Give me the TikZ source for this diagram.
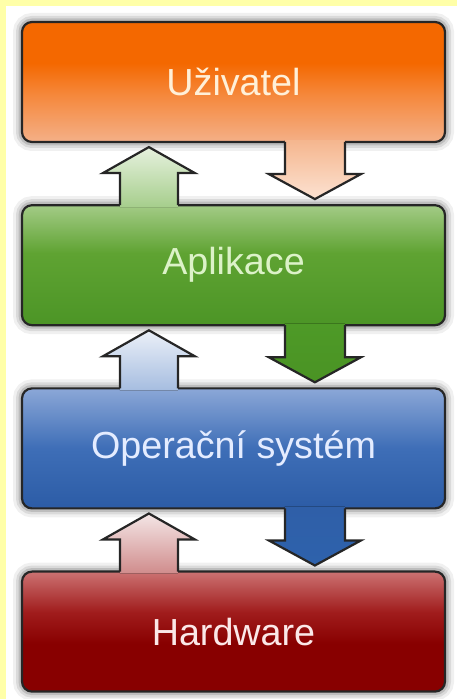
\documentclass[tikz,border=0pt]{standalone}
\usepackage{fontspec}
\setmainfont{Liberation Sans}
\usetikzlibrary{positioning,calc}
\definecolor{bgYellow}{HTML}{FFFFA8}
\definecolor{uzTop}{HTML}{F46800}
\definecolor{uzMid}{HTML}{F5873A}
\definecolor{uzBot}{HTML}{F4B088}
\definecolor{uzText}{HTML}{FFF0D8}
\definecolor{uzDnA}{HTML}{F5B68E}
\definecolor{uzDnB}{HTML}{FCE2D2}
\definecolor{aplTop}{HTML}{A3CB86}
\definecolor{aplMid}{HTML}{5FA332}
\definecolor{aplBot}{HTML}{4C9526}
\definecolor{aplText}{HTML}{DCF2C8}
\definecolor{aplUpA}{HTML}{A6CE8C}
\definecolor{aplUpB}{HTML}{E6F1DE}
\definecolor{aplDnA}{HTML}{4E9A27}
\definecolor{aplDnB}{HTML}{4A9324}
\definecolor{osTop}{HTML}{8BA7D7}
\definecolor{osMid}{HTML}{3E6EB7}
\definecolor{osBot}{HTML}{2C5CA6}
\definecolor{osText}{HTML}{E4ECFF}
\definecolor{osUpA}{HTML}{A6BDE0}
\definecolor{osUpB}{HTML}{EBF0F8}
\definecolor{osDnA}{HTML}{2F5FA8}
\definecolor{osDnB}{HTML}{2E62AC}
\definecolor{hwTop}{HTML}{CC7272}
\definecolor{hwMid}{HTML}{A01C1C}
\definecolor{hwBot}{HTML}{880000}
\definecolor{hwText}{HTML}{FBE8E8}
\definecolor{hwUpA}{HTML}{D08C8C}
\definecolor{hwUpB}{HTML}{F4E6E6}
\pgfdeclareverticalshading{uzShade}{100bp}{color(0bp)=(uzBot); color(25bp)=(uzBot); color(45bp)=(uzMid); color(58bp)=(uzTop); color(100bp)=(uzTop)}
\pgfdeclareverticalshading{aplShade}{100bp}{color(0bp)=(aplBot); color(25bp)=(aplBot); color(55bp)=(aplMid); color(75bp)=(aplTop); color(100bp)=(aplTop)}
\pgfdeclareverticalshading{osShade}{100bp}{color(0bp)=(osBot); color(25bp)=(osBot); color(50bp)=(osMid); color(75bp)=(osTop); color(100bp)=(osTop)}
\pgfdeclareverticalshading{hwShade}{100bp}{color(0bp)=(hwBot); color(25bp)=(hwBot); color(45bp)=(hwBot); color(58bp)=(hwMid); color(75bp)=(hwTop); color(100bp)=(hwTop)}
\pgfdeclarelayer{shadow}
\pgfsetlayers{shadow,main}
\tikzset{
  tier/.style={draw=black!85, line width=2.2pt, rounded corners=10pt, shade,
    minimum width=423pt, minimum height=120pt, inner sep=0pt,
    font=\fontsize{37.7}{44}\selectfont,
    preaction={draw=black, line width=18pt, opacity=0.06},
    preaction={draw=black, line width=12pt, opacity=0.09},
    preaction={draw=black, line width=7pt, opacity=0.13}},
  arrline/.style={draw=black!85, line width=2.2pt, line join=miter},
}
% block arrow from lower tier up to upper tier
\newcommand{\blockup}[4]{%
  \coordinate (tip) at ($(#2.south west)+(#3,-4)$);
  \coordinate (hl) at ($(tip)+(-46,-26)$);
  \coordinate (hr) at ($(tip)+(46,-26)$);
  \coordinate (sl) at ($(tip)+(-29,-26)$);
  \coordinate (sr) at ($(tip)+(29,-26)$);
  \coordinate (bl) at (sl |- #1.north);
  \coordinate (br) at (sr |- #1.north);
  \begin{pgfonlayer}{shadow}
    \foreach \w/\o in {18pt/0.06,12pt/0.09,7pt/0.13}
      \draw[black, line width=\w, opacity=\o, line join=round] (bl) -- (sl) -- (hl) -- (tip) -- (hr) -- (sr) -- (br) -- cycle;
  \end{pgfonlayer}
  \fill[#4] ($(bl)+(0,-3)$) -- (sl) -- (hl) -- (tip) -- (hr) -- (sr) -- ($(br)+(0,-3)$) -- cycle;
  \draw[arrline] ($(bl)+(0,-1.1)$) -- (sl) -- (hl) -- (tip) -- (hr) -- (sr) -- ($(br)+(0,-1.1)$);
}
% block arrow from upper tier down to lower tier
\newcommand{\blockdown}[4]{%
  \coordinate (tip) at ($(#2.north west)+(#3,5)$);
  \coordinate (hl) at ($(tip)+(-46,25)$);
  \coordinate (hr) at ($(tip)+(46,25)$);
  \coordinate (sl) at ($(tip)+(-30,25)$);
  \coordinate (sr) at ($(tip)+(30,25)$);
  \coordinate (bl) at (sl |- #1.south);
  \coordinate (br) at (sr |- #1.south);
  \begin{pgfonlayer}{shadow}
    \foreach \w/\o in {18pt/0.06,12pt/0.09,7pt/0.13}
      \draw[black, line width=\w, opacity=\o, line join=round] (bl) -- (sl) -- (hl) -- (tip) -- (hr) -- (sr) -- (br) -- cycle;
  \end{pgfonlayer}
  \fill[#4] ($(bl)+(0,3)$) -- (sl) -- (hl) -- (tip) -- (hr) -- (sr) -- ($(br)+(0,3)$) -- cycle;
  \draw[arrline] ($(bl)+(0,1.1)$) -- (sl) -- (hl) -- (tip) -- (hr) -- (sr) -- ($(br)+(0,1.1)$);
}
\begin{document}
\begin{tikzpicture}[x=1pt, y=1pt, node distance=61pt]
\useasboundingbox (0,0) rectangle (456,699);
\fill[bgYellow] (-5,-5) rectangle (461,704);
\fill[white] (6,-5) rectangle (461,693);

% tiers
\node[tier, shading=uzShade, text=uzText] (uziv) at (233.5,617) {Uživatel};
\node[tier, shading=aplShade, text=aplText, below=of uziv] (apl) {Aplikace};
\node[tier, shading=osShade, text=osText, below=of apl] (os) {Operační systém};
\node[tier, shading=hwShade, text=hwText, below=of os] (hw) {Hardware};

% arrows up
\blockup{apl}{uziv}{128}{bottom color=aplUpA, top color=aplUpB}
\blockup{os}{apl}{128}{bottom color=osUpA, top color=osUpB}
\blockup{hw}{os}{128}{bottom color=hwUpA, top color=hwUpB}

% arrows down
\blockdown{uziv}{apl}{294}{top color=uzDnA, bottom color=uzDnB}
\blockdown{apl}{os}{294}{top color=aplDnA, bottom color=aplDnB}
\blockdown{os}{hw}{294}{top color=osDnA, bottom color=osDnB}

\end{tikzpicture}
\end{document}
